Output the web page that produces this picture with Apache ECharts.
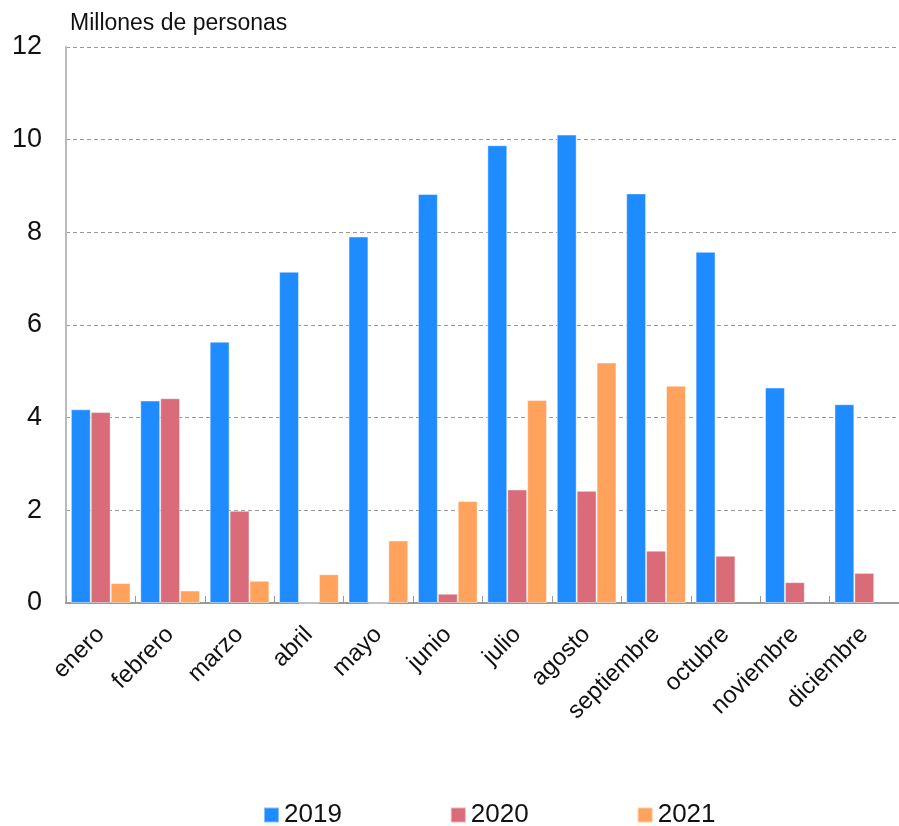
<!DOCTYPE html>
<html>
<head>
<meta charset="utf-8">
<script src="https://cdn.jsdelivr.net/npm/echarts@6/dist/echarts.min.js"></script>
<style>
  html, body { margin: 0; padding: 0; background: #fff; }
  #chart { width: 899px; height: 826px; }
</style>
</head>
<body>
<div id="chart"></div>
<script>
// Monthly visitors (millions of people) by year
const months = ['enero', 'febrero', 'marzo', 'abril', 'mayo', 'junio', 'julio',
                'agosto', 'septiembre', 'octubre', 'noviembre', 'diciembre'];
const years = ['2019', '2020', '2021'];
const values2019 = [4.18, 4.37, 5.64, 7.15, 7.91, 8.83, 9.88, 10.11, 8.84, 7.58, 4.65, 4.29];
const values2020 = [4.12, 4.42, 1.99, 0, 0, 0.2, 2.45, 2.42, 1.13, 1.02, 0.45, 0.65];
const values2021 = [0.43, 0.27, 0.48, 0.62, 1.35, 2.2, 4.38, 5.19, 4.69, null, null, null];
const yTicks = [0, 2, 4, 6, 8, 10, 12];

const colors = ['#1E8BFF', '#DA6B78', '#FFA35C'];
const font = 'Liberation Sans, Helvetica, Arial, sans-serif';

const chart = echarts.init(document.getElementById('chart'), null, { renderer: 'canvas' });

const seriesData = [values2019, values2020, values2021];
chart.setOption({
  animation: false,
  color: colors,
  textStyle: { fontFamily: font },
  grid: { left: 66, right: 0, top: 47, bottom: 223, containLabel: false },
  legend: {
    data: years,
    left: 258,
    top: 797,
    itemWidth: 15,
    itemHeight: 15,
    itemGap: 108,
    icon: 'rect',
    textStyle: { fontSize: 26, color: '#111', fontFamily: font }
  },
  xAxis: {
    type: 'category',
    data: months,
    axisLine: { lineStyle: { color: '#999', width: 2 } },
    axisTick: { show: true, length: 7, inside: true, lineStyle: { color: '#999' } },
    axisLabel: { rotate: 45, fontSize: 24, color: '#111', margin: 28, fontFamily: font },
    splitLine: { show: false }
  },
  yAxis: {
    type: 'value',
    min: yTicks[0],
    max: yTicks[yTicks.length - 1],
    interval: 2,
    name: 'Millones de personas',
    nameLocation: 'end',
    nameGap: 12,
    nameTextStyle: { fontSize: 23, color: '#111', align: 'left', padding: [0, 0, 0, 4], fontFamily: font },
    axisLine: { show: true, lineStyle: { color: '#bbb', width: 2 } },
    axisTick: { show: false },
    axisLabel: { fontSize: 27, color: '#111', margin: 24, fontFamily: font },
    splitLine: { show: true, lineStyle: { color: '#999', type: [4, 3], width: 1 } }
  },
  series: years.map((y, i) => ({
    name: y,
    type: 'bar',
    data: seriesData[i],
    barGap: '0%',
    barCategoryGap: '14%',
    itemStyle: { color: colors[i], borderColor: 'rgba(255,255,255,0.45)', borderWidth: 1 }
  }))
});
</script>
</body>
</html>
